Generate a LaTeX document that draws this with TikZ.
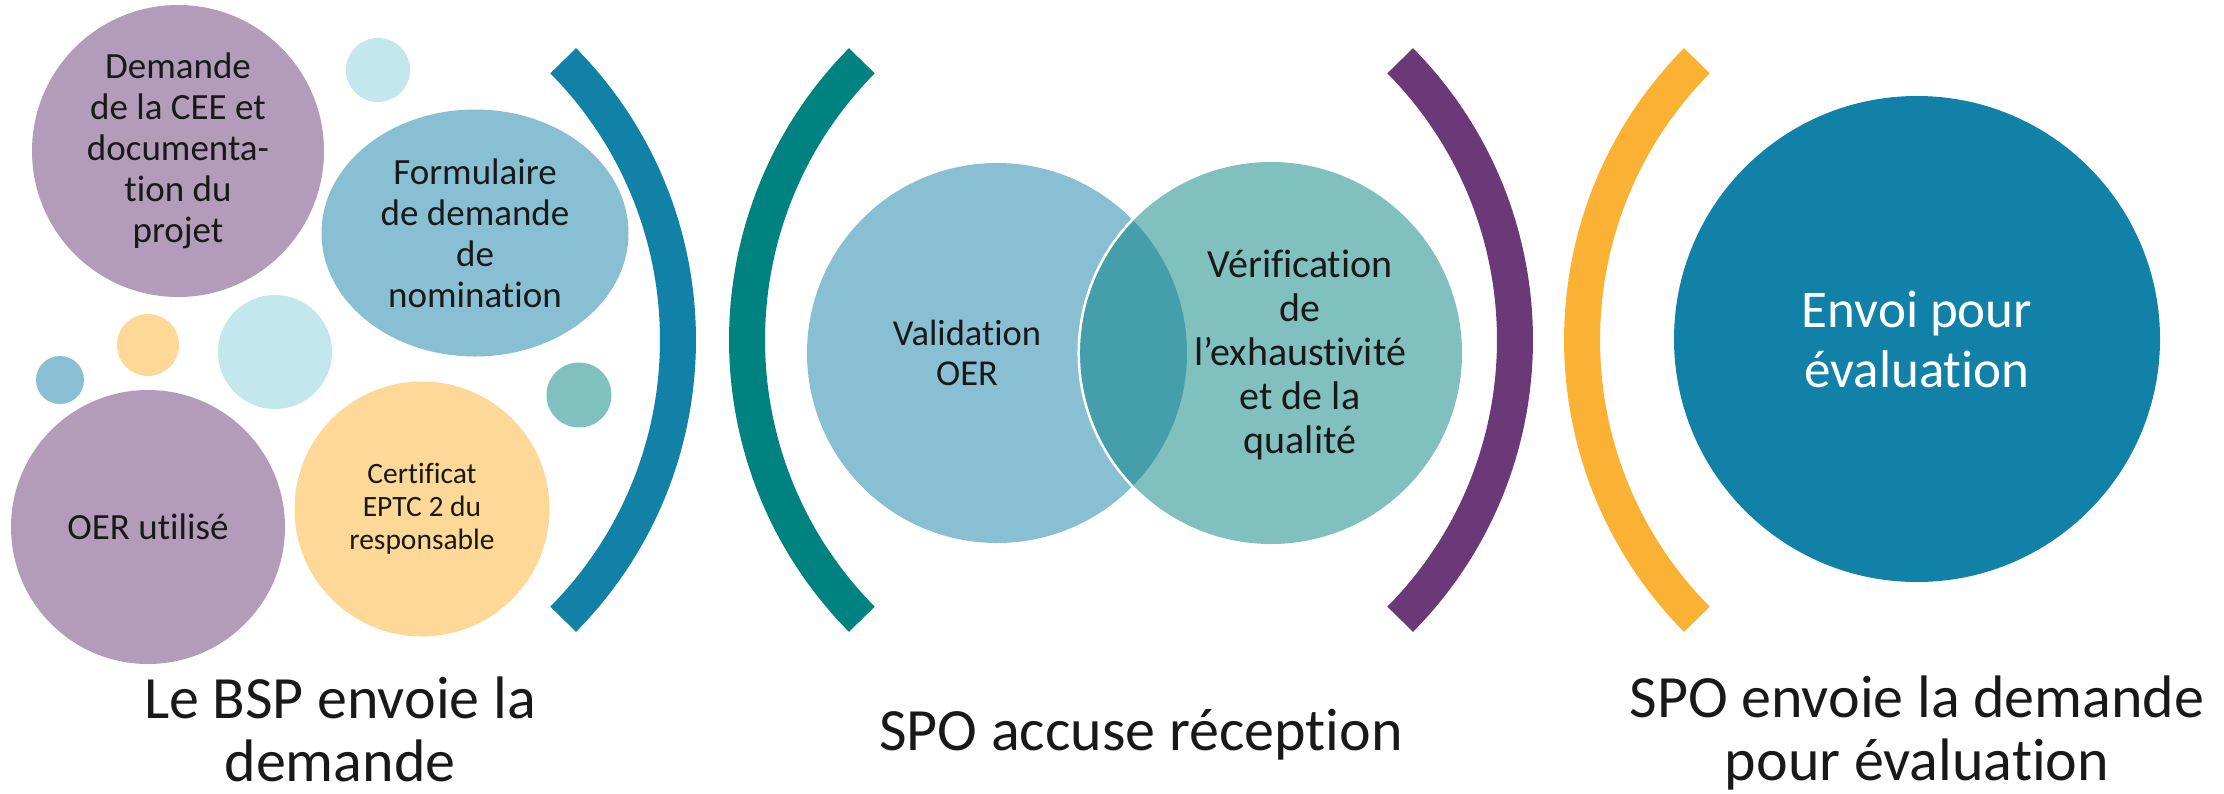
\documentclass[tikz,border=0pt]{standalone}
\usepackage{fontspec}
\setmainfont{Carlito}[Ligatures=NoCommon]
\usetikzlibrary{positioning}
\usetikzlibrary{shapes}
\usetikzlibrary{calc}
\definecolor{mauve}{HTML}{B39BBA}
\definecolor{skyblue}{HTML}{89BFD3}
\definecolor{paleblue}{HTML}{C2E7EC}
\definecolor{paleorange}{HTML}{FDD896}
\definecolor{seafoam}{HTML}{80C0BF}
\definecolor{lens}{HTML}{459FAB}
\definecolor{deepblue}{HTML}{1181A7}
\definecolor{darkteal}{HTML}{008280}
\definecolor{plum}{HTML}{6B3977}
\definecolor{amber}{HTML}{FBB134}
\tikzset{
	every node/.style={align=center, inner sep=0pt, outer sep=0pt, text=black!90},
	bubble/.style={circle, minimum size=#1, font=\fontsize{37}{41}\selectfont},
	dot/.style={circle, minimum size=#1},
	bracket/.style={line width=36pt, line cap=butt},
	phase/.style={anchor=base, font=\fontsize{60}{63}\selectfont}
}

\begin{document}
\begin{tikzpicture}[x=1pt, y=-1pt]
	\useasboundingbox (0,0) rectangle (2224,793);

	% BSP bubbles
	\node (demande) [bubble=292pt, fill=mauve] at (178,151) {Demande\\de la CEE et\\documenta-\\tion du\\projet};
	\node (formulaire) [ellipse, minimum width=307pt, minimum height=247pt, fill=skyblue, font=\fontsize{37}{41}\selectfont] at (475,233) {Formulaire\\de demande\\de\\nomination};
	\node (oer) [bubble=274pt, fill=mauve] at (148,527) {OER utilisé};
	\node (certificat) [bubble=255pt, fill=paleorange, font=\fontsize{29.5}{33}\selectfont] at (422,509) {Certificat\\EPTC 2 du\\responsable};

	\node (dot1) [dot=64pt, fill=paleblue] at (378,70) {};
	\node (dot2) [dot=62pt, fill=paleorange] at (148,345) {};
	\node (dot3) [dot=48pt, fill=skyblue] at (60,380) {};
	\node (dot4) [dot=114pt, fill=paleblue] at (275,352) {};
	\node (dot5) [dot=65pt, fill=seafoam] at (579,395) {};

	% brackets
	\foreach \cx/\col/\a in {281/deepblue/0, 1144/darkteal/180, 1118/plum/0, 1979/amber/180}
		\draw[bracket, \col] (\cx,340) ++(\a+44.7:397) arc[start angle=\a+44.7, end angle=\a-44.7, radius=397];

	% SPO venn
	\node (validation) [dot=380pt, fill=skyblue] at (997,353) {};
	\node (verification) [dot=382pt, fill=seafoam] at (1271,353) {};
	\begin{scope}
		\clip (validation.center) circle[radius=190];
		\fill[lens] (verification.center) circle[radius=191];
		\draw[white, line width=2.5pt] (verification.center) circle[radius=192.3];
	\end{scope}
	\node (validation text) [font=\fontsize{36.5}{40}\selectfont] at ([xshift=-30pt]validation.center) {Validation\\OER};
	\node (verification text) [font=\fontsize{40}{44}\selectfont] at ([xshift=29pt, yshift=-2pt]verification.center) {Vérification\\de\\l’exhaustivité\\et de la\\qualité};

	% evaluation
	\node (envoi) [dot=486pt, fill=deepblue, text=white, font=\fontsize{53}{60}\selectfont] at (1917,339) {Envoi pour\\évaluation};

	% phase labels
	\node (bsp) [phase] at (340,781) {Le BSP envoie la\\demande};
	\node (accuse) [phase] at (1141,750) {SPO accuse réception};
	\node (envoie) [phase] at (1917,780) {SPO envoie la demande\\pour évaluation};
\end{tikzpicture}
\end{document}
